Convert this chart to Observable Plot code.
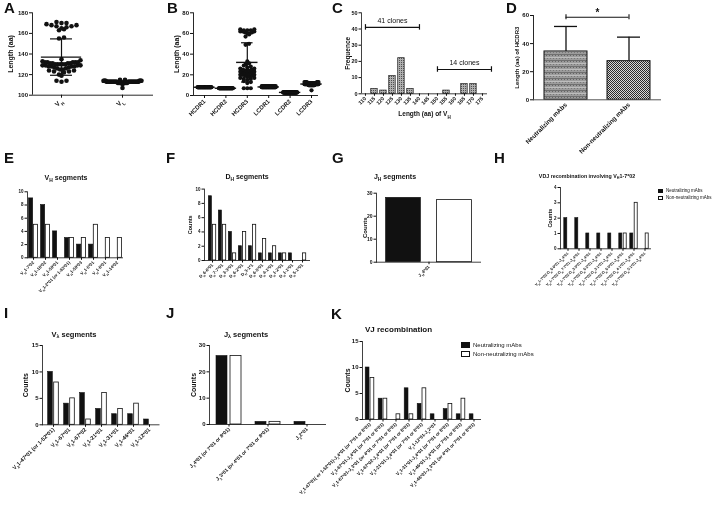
<!DOCTYPE html>
<html><head><meta charset="utf-8">
<script src="https://cdn.jsdelivr.net/npm/d3@7"></script>
<script src="https://cdn.jsdelivr.net/npm/@observablehq/plot@0.6"></script>
<style>
body{margin:0;background:#fff;}
#fig{position:relative;width:722px;height:524px;overflow:hidden;font-family:"Liberation Sans",Arial,sans-serif;color:#111;background:#fff;filter:grayscale(1);}
.pan{position:absolute;}
.pan svg{overflow:visible;}
.lab{position:absolute;font-weight:bold;font-size:15px;line-height:1;}
.ttl{position:absolute;font-weight:bold;white-space:nowrap;line-height:1;}
.sb{font-size:70%;vertical-align:-0.3em;}
.leg{position:absolute;white-space:nowrap;line-height:1;display:flex;align-items:center;}
.sw{display:inline-block;border:0.8px solid #111;box-sizing:border-box;margin-right:3px;}
</style></head><body>
<svg width="0" height="0" style="position:absolute"><defs>
<pattern id="pDots" width="2" height="2" patternUnits="userSpaceOnUse"><rect width="2" height="2" fill="#b0b0b0"/><rect width="1" height="1" fill="#505050"/></pattern>
<pattern id="pNeut" width="3" height="6" patternUnits="userSpaceOnUse"><rect width="3" height="6" fill="#9c9c9c"/><rect y="0" width="3" height="1" fill="#707070"/><rect y="3" width="3" height="1" fill="#bdbdbd"/><rect x="1" y="1" width="1" height="1" fill="#666"/><rect x="2" y="4" width="1" height="1" fill="#777"/></pattern>
<pattern id="pCheck" width="2" height="2" patternUnits="userSpaceOnUse"><rect width="2" height="2" fill="#d8d8d8"/><rect width="1" height="1" fill="#2a2a2a"/><rect x="1" y="1" width="1" height="1" fill="#2a2a2a"/></pattern>
</defs></svg>
<div id="fig"></div>
<script>
// ================= DATA =================
// A: V-region lengths (value, number of clones)
const aCategories = ["V{H}", "V{L}"];
const vhLengthCounts = [[113,1],[114,2],[119,1],[120,1],[122,1],[123,2],[124,2],[125,2],[126,2],[127,2],[128,4],[129,4],[130,5],[131,4],[132,5],[133,1],[134,1],[135,1],[155,1],[156,1],[163,1],[164,1],[165,1],[166,1],[167,2],[168,2],[169,1],[170,2],[171,1]];
const vlLengthCounts = [[107,1],[111,2],[112,12],[113,30],[114,8],[115,2]];
const aTicks = [100,120,140,160,180];

// B: CDR lengths (value, count)
const cdrCategories = ["HCDR1","HCDR2","HCDR3","LCDR1","LCDR2","LCDR3"];
const hcdr1Counts = [[8,55]];
const hcdr2Counts = [[7,55]];
const hcdr3Counts = [[7,3],[12,1],[13,1],[14,1],[15,1],[16,2],[17,2],[18,2],[19,2],[20,3],[21,3],[22,3],[23,3],[24,2],[25,2],[26,2],[27,1],[28,1],[29,1],[30,1],[31,1],[33,1],[49,1],[50,1],[57,1],[59,1],[60,2],[61,2],[62,3],[63,3],[64,2]];
const lcdr1Counts = [[8,40],[9,15]];
const lcdr2Counts = [[3,55]];
const lcdr3Counts = [[5,1],[10,15],[11,20],[12,12],[13,7]];
const bTicks = [0,20,40,60,80];

// C: histogram of VH length
const vhBins = [110,115,120,125,130,135,140,145,150,155,160,165,170,175];
const vhBinCounts = [0,3,2,11,22,3,0,0,0,2,0,6,6,0];
const cloneLabels = ["41 clones","14 clones"];
const cloneFrom = [110,150];
const cloneTo = [140,180];
const cloneLevel = [41,15];

// D: HCDR3 length by group
const dGroups = ["Neutralizing mAbs","Non-neutralizing mAbs"];
const dMeans = [34.4, 27.5];
const dSDs = [17.8, 17.1];
const dSigLevel = 58.8;
const dSigLabel = "*";

// legend
const seriesNames = ["Neutralizing mAbs","Non-neutralizing mAbs"];

// E: VH segments
const vhSegments = ["V{H}1-7*02","V{H}1-18*02","V{H}1-59*01","V{H}1-2*01 (or 1-83*01)","V{H}1-59*03","V{H}1-5*01","V{H}1-8*01","V{H}1-14*02"];
const vhSegNeut = [9,8,4,3,2,2,0,0];
const vhSegNon  = [5,5,0,3,3,5,3,3];

// F: DH segments
const dhSegments = ["D{H}6-6*01","D{H}7-7*01","D{H}3-3*01","D{H}6-2*01","D{H}3-1*1","D{H}6-5*01","D{H}4-1*01","D{H}1-2*01","D{H}1-1*01","D{H}5-1*01"];
const dhSegNeut = [9,7,4,2,2,1,1,1,1,0];
const dhSegNon  = [5,5,1,4,5,3,2,1,0,1];

// G: JH segments
const jhSegments = ["J{H}4*01"];
const jhSegNeut = [28];
const jhSegNon  = [27];

// H: VDJ recombination involving VH1-7*02
const vdjCombos = ["V{H}1-7*02-D{H}6-6*01-J{H}4*01","V{H}1-7*02-D{H}7-7*01-J{H}4*01","V{H}1-7*02-D{H}3-3*01-J{H}4*01","V{H}1-7*02-D{H}6-2*01-J{H}4*01","V{H}1-7*02-D{H}3-1*01-J{H}4*01","V{H}1-7*02-D{H}6-5*01-J{H}4*01","V{H}1-7*02-D{H}4-1*01-J{H}4*01","V{H}1-7*02-D{H}5-1*01-J{H}4*01"];
const vdjNeut = [2,2,1,1,1,1,1,0];
const vdjNon  = [0,0,0,0,0,1,3,1];

// I: Vλ segments
const vlSegments = ["V{λ}1-47*01 (or 1-52*01)","V{λ}1-67*01","V{λ}1-67*02","V{λ}1-21*01","V{λ}1-31*01","V{λ}1-46*01","V{λ}1-12*01"];
const vlSegNeut = [10,4,6,3,2,2,1];
const vlSegNon  = [8,5,1,6,3,4,0];

// J: Jλ segments
const jlSegments = ["J{λ}4*01 (or 7*01 or 8*01)","J{λ}3*01 (or 4*01 or 7*01 or 8*01)","J{λ}2*01"];
const jlSegNeut = [26,1,1];
const jlSegNon  = [26,1,0];

// K: VJ recombination
const vjCombos = [
 "V{λ}1-47*01( or 1-52*01)-J{λ}4*01 (or 7*01 or 8*01)",
 "V{λ}1-67*01-J{λ}4*01 (or 7*01 or 8*01)",
 "V{λ}1-67*01-J{λ}3*01 (or 4*01 or 7*01 or 8*01)",
 "V{λ}1-67*02-J{λ}4*01 (or 7*01 or 8*01)",
 "V{λ}1-21*01-J{λ}4*01 (or 7*01 or 8*01)",
 "V{λ}1-12*01-J{λ}2*01",
 "V{λ}1-31*01-J{λ}4*01 (or 7*01 or 8*01)",
 "V{λ}1-46*01-J{λ}4*01 (or 7*01 or 8*01)",
 "V{λ}1-46*01-J{λ}3*01 (or 4*01 or 7*01 or 8*01)"];
const vjNeut = [10,4,0,6,3,1,2,1,1];
const vjNon  = [8,4,1,1,6,0,3,4,0];

// ================= HELPERS =================
const fig = document.getElementById("fig");
const FONT = '"Liberation Sans", Arial, Helvetica, sans-serif';
const INK = "#111";
const intFmt = d => String(d);
const style = (fs) => ({fontFamily: FONT, fontSize: fs + "px", fontWeight: "bold", background: "transparent", overflow: "visible", color: INK});

function subify(svg) {
  svg.querySelectorAll("text").forEach(t => {
    const s = t.textContent;
    if (!s.includes("{") || t.querySelector("tspan")) return;
    const parts = s.split(/(\{[^}]*\})/);
    t.textContent = "";
    for (const p of parts) {
      if (!p) continue;
      const ts = document.createElementNS("http://www.w3.org/2000/svg", "tspan");
      if (p.startsWith("{")) { ts.textContent = p.slice(1, -1); ts.setAttribute("font-size", "70%"); ts.setAttribute("baseline-shift", "sub"); }
      else ts.textContent = p;
      t.appendChild(ts);
    }
  });
}
function place(node, left, top) {
  const d = document.createElement("div");
  d.className = "pan"; d.style.left = left + "px"; d.style.top = top + "px";
  d.appendChild(node); fig.appendChild(d); subify(node);
}
const htmlSub = s => s.replace(/\{([^}]*)\}/g, '<span class="sb">$1</span>');
function addTitle(text, x, y, fs, anchor = "middle") {
  const d = document.createElement("div");
  d.className = "ttl"; d.innerHTML = htmlSub(text);
  d.style.left = x + "px"; d.style.top = y + "px"; d.style.fontSize = fs + "px";
  d.style.transform = anchor === "middle" ? "translate(-50%,-50%)" : "translate(0,-50%)";
  fig.appendChild(d);
}
function addLetter(t, x, y) {
  const d = document.createElement("div");
  d.className = "lab"; d.textContent = t; d.style.left = x + "px"; d.style.top = y + "px";
  fig.appendChild(d);
}
function addLegend(x, y, fs, sw, sh, dy) {
  const fills = ["#111", "#fff"];
  seriesNames.forEach((name, i) => {
    const d = document.createElement("div");
    d.className = "leg"; d.style.left = x + "px"; d.style.top = (y + i * dy) + "px"; d.style.fontSize = fs + "px";
    d.innerHTML = `<span class="sw" style="width:${sw}px;height:${sh}px;background:${fills[i]}"></span>${name}`;
    fig.appendChild(d);
  });
}
const expand = counts => counts.flatMap(([v, n]) => Array.from({length: n}, () => v));
function ylab(text, dx, fs) {
  return Plot.text([text], {frameAnchor: "left", textAnchor: "middle", lineAnchor: "middle", rotate: -90, dx, text: d => d, fontSize: fs, fontWeight: "bold"});
}
function margins(left, top, width, height, [x0, x1, y0, y1]) {
  return {width, height, marginLeft: x0 - left, marginRight: left + width - x1, marginTop: y0 - top, marginBottom: top + height - y1};
}

// column-scatter horizontal offsets (px) for dots sharing similar values
function columnScatter(vals, binUnits, stepPx, maxHalfPx) {
  const items = vals.map((v, i) => ({v, i}));
  const off = vals.map(() => 0);
  for (const [, arr] of d3.group(items, d => Math.floor(d.v / binUnits))) {
    arr.sort((a, b) => a.v - b.v);
    const n = arr.length;
    const step = n > 1 ? Math.min(stepPx, 2 * maxHalfPx / (n - 1)) : 0;
    const slots = d3.range(n).map(k => (k - (n - 1) / 2) * step);
    const mid = Math.floor((n - 1) / 2);
    const order = d3.range(n).map(k => k % 2 === 0 ? mid - k / 2 : mid + (k + 1) / 2);
    arr.forEach((d, k) => { off[d.i] = slots[Math.max(0, Math.min(n - 1, order[k]))]; });
  }
  return off;
}

function dotPanel({cats, series, left, top, width, height, frame, ydomain, yticks, pxX, firstPx, bin, stepPx, maxHalf, r, meanHalf, capHalf, ylabel, ylabDx, fs, tfs}) {
  const rows = [], stats = [];
  series.forEach((vals, i) => {
    const off = columnScatter(vals, bin, stepPx, maxHalf);
    vals.forEach((v, k) => rows.push({x: i + off[k] / pxX, y: v}));
    stats.push({i, m: d3.mean(vals), s: d3.deviation(vals)});
  });
  const fw = frame[1] - frame[0];
  const xd = [-firstPx / pxX, (fw - firstPx) / pxX];
  const p = Plot.plot({
    ...margins(left, top, width, height, frame),
    x: {domain: xd}, y: {domain: ydomain},
    style: style(fs),
    marks: [
      Plot.dot(rows, {x: "x", y: "y", r, fill: INK, stroke: "none"}),
      Plot.ruleY(stats, {y: "m", x1: d => d.i - meanHalf, x2: d => d.i + meanHalf, stroke: INK, strokeWidth: 1.4}),
      Plot.ruleX(stats, {x: "i", y1: d => d.m - d.s, y2: d => d.m + d.s, stroke: INK, strokeWidth: 1.2}),
      Plot.ruleY(stats, {y: d => d.m + d.s, x1: d => d.i - capHalf, x2: d => d.i + capHalf, stroke: INK, strokeWidth: 1.2}),
      Plot.ruleY(stats, {y: d => d.m - d.s, x1: d => d.i - capHalf, x2: d => d.i + capHalf, stroke: INK, strokeWidth: 1.2}),
      Plot.ruleX([xd[0]], {stroke: INK, strokeWidth: 0.9}),
      Plot.ruleY([ydomain[0]], {stroke: INK, strokeWidth: 0.9}),
      Plot.axisY({ticks: yticks, tickFormat: intFmt, tickSize: 3, tickPadding: 1.5, label: null, fontSize: fs}),
      Plot.axisX({ticks: d3.range(cats.length), tickFormat: i => cats[i], tickRotate: -45, tickSize: 3, tickPadding: 2, label: null, fontSize: tfs}),
      ylab(ylabel, ylabDx, fs + 1)
    ]
  });
  place(p, left, top);
}

function groupedBars({cats, neut, non, left, top, width, height, frame, ymax, yticks, barW, gap, fs, tfs, ylabel, ylabDx}) {
  const rows = cats.map((c, i) => ({c, neut: neut[i], non: non[i]}));
  const step = (frame[1] - frame[0]) / cats.length;
  const a = step / 2 - gap / 2 - barW, b = step / 2 + gap / 2;
  const marks = [
    Plot.barY(rows.filter(d => d.neut > 0), {x: "c", y: "neut", fill: INK, stroke: INK, strokeWidth: 0.6, insetLeft: a, insetRight: b}),
    Plot.barY(rows.filter(d => d.non > 0), {x: "c", y: "non", fill: "#fff", stroke: INK, strokeWidth: 0.8, insetLeft: b, insetRight: a}),
    Plot.frame({anchor: "left", stroke: INK, strokeWidth: 0.8}),
    Plot.ruleY([0], {stroke: INK, strokeWidth: 0.8}),
    Plot.axisY({ticks: yticks, tickFormat: intFmt, tickSize: 2.5, tickPadding: 1.5, label: null, fontSize: fs}),
    Plot.axisX({tickRotate: -45, tickSize: 2.5, tickPadding: 1.5, label: null, fontSize: tfs})
  ];
  if (ylabel) marks.push(ylab(ylabel, ylabDx, fs + 1));
  const p = Plot.plot({
    ...margins(left, top, width, height, frame),
    x: {domain: cats, padding: 0}, y: {domain: [0, ymax]},
    style: style(fs), marks
  });
  place(p, left, top);
}

// ================= PANELS =================
// A
dotPanel({cats: aCategories, series: [expand(vhLengthCounts), expand(vlLengthCounts)],
  left: 0, top: 0, width: 180, height: 150, frame: [32, 153, 12.3, 94.7],
  ydomain: [100, 180], yticks: aTicks, pxX: 61, firstPx: 29, bin: 5, stepPx: 5, maxHalf: 19, r: 2.3,
  meanHalf: 0.33, capHalf: 0.18, ylabel: "Length (aa)", ylabDx: -22, fs: 6, tfs: 6.5});

// B
dotPanel({cats: cdrCategories, series: [hcdr1Counts, hcdr2Counts, hcdr3Counts, lcdr1Counts, lcdr2Counts, lcdr3Counts].map(expand),
  left: 160, top: 0, width: 180, height: 150, frame: [193, 318, 12.3, 95],
  ydomain: [0, 80], yticks: bTicks, pxX: 21.4, firstPx: 11, bin: 3, stepPx: 3.5, maxHalf: 7, r: 2.1,
  meanHalf: 0.5, capHalf: 0.27, ylabel: "Length (aa)", ylabDx: -17, fs: 6, tfs: 6});

// C
{
  const rows = vhBins.map((b, i) => ({bin: b, count: vhBinCounts[i]}));
  const groups = cloneLabels.map((label, i) => ({label, from: cloneFrom[i], to: cloneTo[i], level: cloneLevel[i]}));
  const p = Plot.plot({
    ...margins(335, 0, 180, 150, [361, 487, 12.3, 93.3]),
    x: {domain: [107.8, 177.8]}, y: {domain: [0, 50]},
    style: style(5.5),
    marks: [
      Plot.rectY(rows.filter(d => d.count > 0), {x1: d => d.bin - 1.8, x2: d => d.bin + 1.8, y: "count", fill: "url(#pDots)", stroke: "#222", strokeWidth: 0.7}),
      Plot.ruleY(groups, {y: "level", x1: "from", x2: "to", stroke: INK, strokeWidth: 1.2}),
      Plot.ruleX(groups, {x: "from", y1: d => d.level - 1.7, y2: d => d.level + 1.7, stroke: INK, strokeWidth: 1.2}),
      Plot.ruleX(groups, {x: "to", y1: d => d.level - 1.7, y2: d => d.level + 1.7, stroke: INK, strokeWidth: 1.2}),
      Plot.text(groups, {x: d => (d.from + d.to) / 2, y: d => d.level + 2.5, text: "label", lineAnchor: "bottom", fontSize: 7, fontWeight: "normal"}),
      Plot.ruleX([107.8], {stroke: INK, strokeWidth: 0.8}),
      Plot.ruleY([0], {stroke: INK, strokeWidth: 0.8}),
      Plot.axisY({ticks: [0,10,20,30,40,50], tickFormat: intFmt, tickSize: 2.5, tickPadding: 1.5, label: null, fontSize: 5.5}),
      Plot.axisX({ticks: vhBins, tickFormat: intFmt, tickRotate: -45, tickSize: 2.5, tickPadding: 1.5, label: null, fontSize: 5.3}),
      ylab("Frequence", -14, 6.5),
      Plot.text(["Length (aa) of V{H}"], {frameAnchor: "bottom", dy: 22, text: d => d, fontSize: 6.5, fontWeight: "bold"})
    ]
  });
  place(p, 335, 0);
}

// D
{
  const rows = dGroups.map((g, i) => ({g, m: dMeans[i], s: dSDs[i]}));
  const bw = 43, step = 63;
  const sig = [{from: dGroups[0], to: dGroups[1], level: dSigLevel, label: dSigLabel}];
  const p = Plot.plot({
    ...margins(500, 0, 222, 170, [533, 661, 15, 99.3]),
    x: {domain: dGroups, paddingInner: 0.32, paddingOuter: 0.175}, y: {domain: [0, 60]},
    style: style(6),
    marks: [
      Plot.ruleX(rows, {x: "g", y1: "m", y2: d => d.m + d.s, stroke: INK, strokeWidth: 1.3}),
      Plot.tickY(rows, {x: "g", y: d => d.m + d.s, stroke: INK, strokeWidth: 1.3, insetLeft: 10, insetRight: 10}),
      Plot.barY(rows.slice(0, 1), {x: "g", y: "m", fill: "url(#pNeut)", stroke: INK, strokeWidth: 1}),
      Plot.barY(rows.slice(1, 2), {x: "g", y: "m", fill: "url(#pCheck)", stroke: INK, strokeWidth: 1}),
      Plot.ruleY(sig, {y: "level", x1: "from", x2: "to", insetLeft: bw / 2, insetRight: bw / 2, stroke: INK, strokeWidth: 1.1}),
      Plot.ruleX(dGroups, {x: d => d, y1: dSigLevel - 1.8, y2: dSigLevel + 1.8, stroke: INK, strokeWidth: 1.1}),
      Plot.text(sig, {x: "from", y: d => d.level + 0.8, dx: step / 2, text: "label", lineAnchor: "bottom", fontSize: 10, fontWeight: "bold"}),
      Plot.frame({anchor: "left", stroke: INK, strokeWidth: 0.9}),
      Plot.ruleY([0], {stroke: "#555", strokeWidth: 1}),
      Plot.axisY({ticks: [0, 20, 40, 60], tickFormat: intFmt, tickSize: 3, tickPadding: 1.5, label: null, fontSize: 6}),
      Plot.axisX({tickRotate: -45, tickSize: 0, tickPadding: 4, label: null, fontSize: 6.3}),
      ylab("Length (aa) of HCDR3", -16, 6)
    ]
  });
  place(p, 500, 0);
}

// E - K
groupedBars({cats: vhSegments, neut: vhSegNeut, non: vhSegNon, left: 0, top: 170, width: 180, height: 140,
  frame: [27, 123, 191.3, 257.3], ymax: 10, yticks: [0,2,4,6,8,10], barW: 4.2, gap: 0.6, fs: 4.5, tfs: 4.3});
groupedBars({cats: dhSegments, neut: dhSegNeut, non: dhSegNon, left: 167, top: 170, width: 180, height: 140,
  frame: [204, 310, 188.6, 260], ymax: 10, yticks: [0,2,4,6,8,10], barW: 3.8, gap: 0.4, fs: 4.5, tfs: 4.3, ylabel: "Counts", ylabDx: -14});
groupedBars({cats: jhSegments, neut: jhSegNeut, non: jhSegNon, left: 340, top: 170, width: 180, height: 140,
  frame: [376, 481, 192.7, 261.7], ymax: 30, yticks: [0,10,20,30], barW: 35, gap: 16, fs: 5, tfs: 4.5, ylabel: "Counts", ylabDx: -11});
groupedBars({cats: vdjCombos, neut: vdjNeut, non: vdjNon, left: 520, top: 170, width: 202, height: 140,
  frame: [560, 651, 187, 248.3], ymax: 4, yticks: [0,1,2,3,4], barW: 3.4, gap: 1, fs: 4.5, tfs: 3.8, ylabel: "Counts", ylabDx: -10});
groupedBars({cats: vlSegments, neut: vlSegNeut, non: vlSegNon, left: 0, top: 330, width: 180, height: 194,
  frame: [42, 159.5, 345, 424.3], ymax: 15, yticks: [0,5,10,15], barW: 5.4, gap: 0.6, fs: 6, tfs: 5.5, ylabel: "Counts", ylabDx: -17});
groupedBars({cats: jlSegments, neut: jlSegNeut, non: jlSegNon, left: 167, top: 330, width: 180, height: 194,
  frame: [209, 326, 345, 424], ymax: 30, yticks: [0,10,20,30], barW: 11, gap: 3, fs: 6, tfs: 5, ylabel: "Counts", ylabDx: -16});
groupedBars({cats: vjCombos, neut: vjNeut, non: vjNon, left: 330, top: 330, width: 200, height: 194,
  frame: [362, 481, 341, 419], ymax: 15, yticks: [0,5,10,15], barW: 4, gap: 0.8, fs: 6, tfs: 4.6, ylabel: "Counts", ylabDx: -15});

// titles, legends, letters
addTitle("V{H} segments", 66, 179, 7);
addTitle("D{H} segments", 247, 178, 7);
addTitle("J{H} segments", 395, 178, 7);
addTitle("VDJ recombination involving V{H}1-7*02", 587, 177, 5.3);
addTitle("V{λ} segments", 74, 335, 7.5);
addTitle("J{λ} segments", 246, 335, 7.5);
addTitle("VJ recombination", 365, 330, 8, "start");
addLegend(658, 189, 4.5, 5, 4, 7);
addLegend(461, 342, 6, 9, 6, 9);
[["A",4,0],["B",167,0],["C",332,0],["D",506,0],["E",4,150],["F",166,150],["G",332,150],["H",494,150],["I",4,305],["J",166,305],["K",331,306]]
  .forEach(([t,x,y]) => addLetter(t, x, y));
</script></body></html>
